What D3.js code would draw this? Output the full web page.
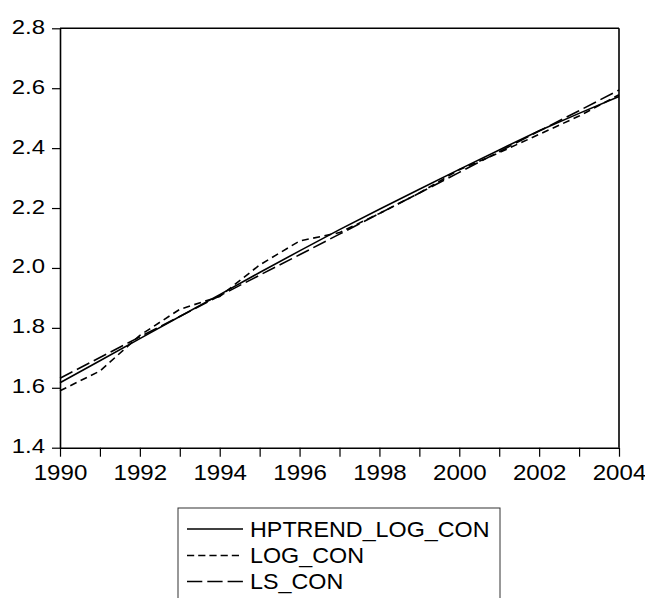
<!DOCTYPE html>
<html>
<head>
<meta charset="utf-8">
<script src="https://cdn.jsdelivr.net/npm/d3@7"></script>
<style>
html,body{margin:0;padding:0;background:#fff;}
svg{display:block;}
text{font-family:"Liberation Sans",Arial,sans-serif;fill:#000;}
</style>
</head>
<body>
<svg id="chart" width="645" height="598"></svg>
<script>
const years = [1990,1991,1992,1993,1994,1995,1996,1997,1998,1999,2000,2001,2002,2003,2004];
const hptrendLogCon = [1.617,1.690,1.764,1.838,1.911,1.985,2.057,2.128,2.196,2.263,2.329,2.394,2.458,2.516,2.572];
const logCon = [1.590,1.656,1.775,1.862,1.905,2.010,2.090,2.118,2.182,2.250,2.328,2.385,2.446,2.507,2.578];
const lsCon = [1.632,1.701,1.770,1.838,1.907,1.976,2.044,2.113,2.182,2.250,2.319,2.388,2.457,2.525,2.594];
const seriesNames = ["HPTREND_LOG_CON","LOG_CON","LS_CON"];
const yTicks = [1.4,1.6,1.8,2.0,2.2,2.4,2.6,2.8];
const xLabelYears = [1990,1992,1994,1996,1998,2000,2002,2004];

const svg = d3.select("#chart");
const L = 60, R = 619, T = 28.3, B = 447.7;
const x = d3.scaleLinear().domain([1990,2004]).range([L,R]);
const y = d3.scaleLinear().domain([1.4,2.8]).range([B,T]);

// frame top & right
svg.append("line").attr("x1",L).attr("x2",R).attr("y1",T).attr("y2",T)
  .attr("stroke","#000").attr("stroke-width",1.6);
svg.append("line").attr("x1",R).attr("x2",R).attr("y1",T).attr("y2",B)
  .attr("stroke","#000").attr("stroke-width",1.6);

// y axis
const yAxis = svg.append("g").attr("transform",`translate(${L},0)`)
  .call(d3.axisLeft(y).tickValues(yTicks).tickFormat(d3.format(".1f")).tickSize(8).tickSizeOuter(0));
yAxis.select(".domain").attr("stroke","#000").attr("stroke-width",1.6);
yAxis.selectAll(".tick line").attr("stroke","#000").attr("stroke-width",1.2);
yAxis.selectAll(".tick text")
  .attr("x",null).attr("dy",null)
  .attr("transform","translate(-15,5) scale(1.14,1)")
  .attr("text-anchor","end")
  .style("font-size","21px").style("font-family",'"Liberation Sans",Arial,sans-serif');

// x axis
const xAxis = svg.append("g").attr("transform",`translate(0,${B})`)
  .call(d3.axisBottom(x).tickValues(years).tickFormat(d => xLabelYears.includes(d) ? String(d) : "").tickSize(9).tickSizeOuter(0));
xAxis.select(".domain").attr("stroke","#000").attr("stroke-width",1.6);
xAxis.selectAll(".tick line").attr("stroke","#000").attr("stroke-width",1.2);
xAxis.selectAll(".tick text")
  .attr("y",null).attr("dy",null)
  .attr("transform","translate(0,32.3) scale(1.07,1)")
  .attr("text-anchor","middle")
  .style("font-size","22.5px").style("font-family",'"Liberation Sans",Arial,sans-serif');

// series
const data = [hptrendLogCon, logCon, lsCon];
const dashes = [null, "7,4.5", "14,5"];
const line = d3.line().x((d,i) => x(years[i])).y(d => y(d));
data.forEach((vals,k) => {
  svg.append("path").datum(vals).attr("d",line)
    .attr("fill","none").attr("stroke","#000").attr("stroke-width",1.6)
    .attr("stroke-dasharray",dashes[k]);
});

// legend
const lg = svg.append("g");
lg.append("rect").attr("x",178).attr("y",508).attr("width",322).attr("height",120)
  .attr("fill","#fff").attr("stroke","#333").attr("stroke-width",1);
const rowY = [529,555.5,581.5];
const legendDash = [null,"7.2,4","15.3,5"];
seriesNames.forEach((name,k) => {
  lg.append("line").attr("x1",187).attr("x2",243).attr("y1",rowY[k]).attr("y2",rowY[k])
    .attr("stroke","#000").attr("stroke-width",1.6).attr("stroke-dasharray",legendDash[k]);
  lg.append("text").text(name)
    .attr("transform",`translate(250,${rowY[k]+7.5}) scale(1.06,1)`)
    .style("font-size","22px");
});
</script>
</body>
</html>
